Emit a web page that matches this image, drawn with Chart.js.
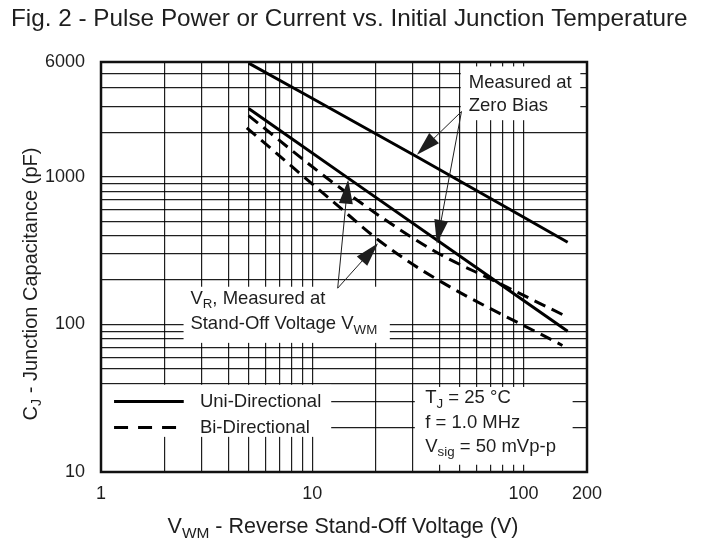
<!DOCTYPE html>
<html lang="en">
<head>
<meta charset="UTF-8">
<title>Junction Capacitance</title>
<style>
  html, body { margin: 0; padding: 0; background: #fff; }
  canvas { display: block; }
</style>
</head>
<body>
<canvas id="canvas" width="703" height="544"></canvas>
<script src="https://cdn.jsdelivr.net/npm/chart.js@4.4.1/dist/chart.umd.min.js"></script>
<script>
// curves: V in volts, Cj in pF
const uniZeroV = [5, 31, 162];
const uniZeroC = [5900, 1380, 360];
const uniBiasV = [5, 14.8, 162];
const uniBiasC = [2900, 980, 90];
const biZeroV = [5, 13, 37, 74, 162];
const biZeroC = [2600, 880, 320, 195, 112];
const biBiasV = [4.9, 13, 21, 37, 153];
const biBiasC = [2150, 650, 365, 211, 72];

const xGrid = [1, 2, 3, 4, 5, 6, 7, 8, 9, 10, 20, 30, 40, 50, 60, 70, 80, 90, 100, 200];
const yGrid = [10, 20, 30, 40, 50, 60, 70, 80, 90, 100, 200, 300, 400, 500, 600, 700, 800, 900,
    1000, 2000, 3000, 4000, 5000, 6000];
const xLabels = [1, 10, 100, 200];
const yLabels = [10, 100, 1000, 6000];

const FONT = '"Liberation Sans", Arial, Helvetica, sans-serif';
const INK = '#1e1e1e';

function toPoints(xs, ys) {
    return xs.map((x, i) => ({ x: x, y: ys[i] }));
}

function curve(xs, ys, dashed) {
    return {
        data: toPoints(xs, ys),
        showLine: true,
        borderColor: '#000',
        borderWidth: 3,
        borderDash: dashed ? [12, 7] : [],
        borderCapStyle: 'butt',
        pointRadius: 0,
        cubicInterpolationMode: 'monotone',
        fill: false
    };
}

// text with subscripts: parts = [[text, isSub], ...]
function richWidth(ctx, parts, size) {
    let w = 0;
    parts.forEach(([t, sub]) => {
        ctx.font = (sub ? size * 0.72 : size) + 'px ' + FONT;
        w += ctx.measureText(t).width;
    });
    return w;
}

function drawRich(ctx, parts, x, y, size) {
    let cx = x;
    parts.forEach(([t, sub]) => {
        ctx.font = (sub ? size * 0.72 : size) + 'px ' + FONT;
        ctx.fillText(t, cx, sub ? y + size * 0.32 : y);
        cx += ctx.measureText(t).width;
    });
}

function arrow(ctx, x0, y0, x1, y1) {
    const a = Math.atan2(y1 - y0, x1 - x0);
    const len = 24, half = 7;
    const c = Math.cos(a), s = Math.sin(a);
    ctx.lineWidth = 1;
    ctx.beginPath();
    ctx.moveTo(x0, y0);
    ctx.lineTo(x1 - c * len * 0.8, y1 - s * len * 0.8);
    ctx.stroke();
    ctx.beginPath();
    ctx.moveTo(x1, y1);
    ctx.lineTo(x1 - c * len + s * half, y1 - s * len - c * half);
    ctx.lineTo(x1 - c * len - s * half, y1 - s * len + c * half);
    ctx.closePath();
    ctx.fill();
}

// white boxes behind the notes, in data units [vLeft, vRight, cTop, cBottom]
const boxes = [
    [50.5, 186, 5600, 2420],
    [2.46, 23.3, 180, 75],
    [1, 12.3, 39, 17.3],
    [30.6, 171, 37.7, 11.2]
];

const notes = {
    id: 'notes',
    beforeDatasetsDraw(chart) {
        const ctx = chart.ctx, sx = chart.scales.x, sy = chart.scales.y;
        ctx.save();
        ctx.fillStyle = '#fff';
        boxes.forEach(([v0, v1, c0, c1]) => {
            const x0 = sx.getPixelForValue(v0), x1 = sx.getPixelForValue(v1);
            const y0 = sy.getPixelForValue(c0), y1 = sy.getPixelForValue(c1);
            ctx.fillRect(x0, y0, x1 - x0, y1 - y0);
        });
        ctx.restore();
    },
    afterDatasetsDraw(chart) {
        const ctx = chart.ctx, sx = chart.scales.x, sy = chart.scales.y;
        const px = v => sx.getPixelForValue(v);
        const py = c => sy.getPixelForValue(c);
        const a = chart.chartArea;
        ctx.save();
        ctx.fillStyle = INK;
        ctx.strokeStyle = INK;
        ctx.textBaseline = 'middle';
        ctx.textAlign = 'left';

        // zero bias note
        drawRich(ctx, [['Measured at', false]], px(55.1), py(4310), 18.5);
        drawRich(ctx, [['Zero Bias', false]], px(55.1), py(3040), 18.5);
        arrow(ctx, px(50.9), py(2770), px(31.3), py(1409));
        arrow(ctx, px(50.9), py(2770), px(38.9), py(352));

        // stand-off voltage note
        drawRich(ctx, [['V', false], ['R', true], [', Measured at', false]], px(2.65), py(149), 18.5);
        drawRich(ctx, [['Stand-Off Voltage V', false], ['WM', true]], px(2.65), py(100.3), 18.5);
        arrow(ctx, px(13.2), py(176), px(14.8), py(955));
        arrow(ctx, px(13.2), py(176), px(20.5), py(355));

        // legend
        ctx.lineWidth = 3;
        ctx.strokeStyle = '#000';
        ctx.beginPath();
        ctx.moveTo(px(1.153), py(30));
        ctx.lineTo(px(2.465), py(30));
        ctx.stroke();
        ctx.setLineDash([14, 10]);
        ctx.beginPath();
        ctx.moveTo(px(1.153), py(20));
        ctx.lineTo(px(2.465), py(20));
        ctx.stroke();
        ctx.setLineDash([]);
        drawRich(ctx, [['Uni-Directional', false]], px(2.94), py(30), 18.5);
        drawRich(ctx, [['Bi-Directional', false]], px(2.94), py(20), 18.5);

        // test conditions
        drawRich(ctx, [['T', false], ['J', true], [' = 25 \u00B0C', false]], px(34.3), py(31.6), 18.5);
        drawRich(ctx, [['f = 1.0 MHz', false]], px(34.3), py(21.4), 18.5);
        drawRich(ctx, [['V', false], ['sig', true], [' = 50 mVp-p', false]], px(34.3), py(14.8), 18.5);

        // frame
        ctx.strokeStyle = '#111';
        ctx.lineWidth = 2.5;
        ctx.strokeRect(a.left, a.top, a.right - a.left, a.bottom - a.top);
        ctx.restore();
    },
    afterDraw(chart) {
        const ctx = chart.ctx;
        ctx.save();
        ctx.fillStyle = INK;
        ctx.textBaseline = 'middle';
        ctx.textAlign = 'left';
        ctx.font = '24.3px ' + FONT;
        ctx.fillText('Fig. 2 - Pulse Power or Current vs. Initial Junction Temperature', 11, 19);

        const xt = [['V', false], ['WM', true], [' - Reverse Stand-Off Voltage (V)', false]];
        const xw = richWidth(ctx, xt, 21.5);
        drawRich(ctx, xt, 343 - xw / 2, 527, 21.5);

        const yt = [['C', false], ['J', true], [' - Junction Capacitance (pF)', false]];
        const yw = richWidth(ctx, yt, 20);
        ctx.translate(31, 284);
        ctx.rotate(-Math.PI / 2);
        drawRich(ctx, yt, -yw / 2, 0, 20);
        ctx.restore();
    }
};

const gridStyle = { color: 'rgba(0,0,0,0.88)', lineWidth: 1.2, drawTicks: false };
const tickFont = { family: FONT, size: 18 };

const chart = new Chart(document.getElementById('canvas'), {
    type: 'scatter',
    data: {
        datasets: [
            curve(uniZeroV, uniZeroC, false),
            curve(uniBiasV, uniBiasC, false),
            curve(biZeroV, biZeroC, true),
            curve(biBiasV, biBiasC, true)
        ]
    },
    options: {
        responsive: false,
        animation: false,
        layout: { padding: { top: 62, right: 116, bottom: 0, left: 0 } },
        plugins: { legend: { display: false }, tooltip: { enabled: false } },
        scales: {
            x: {
                type: 'logarithmic',
                min: 1,
                max: 200,
                afterBuildTicks: s => { s.ticks = xGrid.map(v => ({ value: v })); },
                afterFit: s => { s.height = 72; },
                ticks: {
                    autoSkip: false, maxRotation: 0, padding: 11, color: INK, font: tickFont,
                    callback: v => xLabels.includes(v) ? String(v) : ''
                },
                grid: gridStyle,
                border: { display: false }
            },
            y: {
                type: 'logarithmic',
                min: 10,
                max: 6000,
                afterBuildTicks: s => { s.ticks = yGrid.map(v => ({ value: v })); },
                afterFit: s => { s.width = 101; },
                ticks: {
                    autoSkip: false, padding: 16, color: INK, font: tickFont,
                    callback: v => yLabels.includes(v) ? String(v) : ''
                },
                grid: gridStyle,
                border: { display: false }
            }
        }
    },
    plugins: [notes]
});
</script>
</body>
</html>
